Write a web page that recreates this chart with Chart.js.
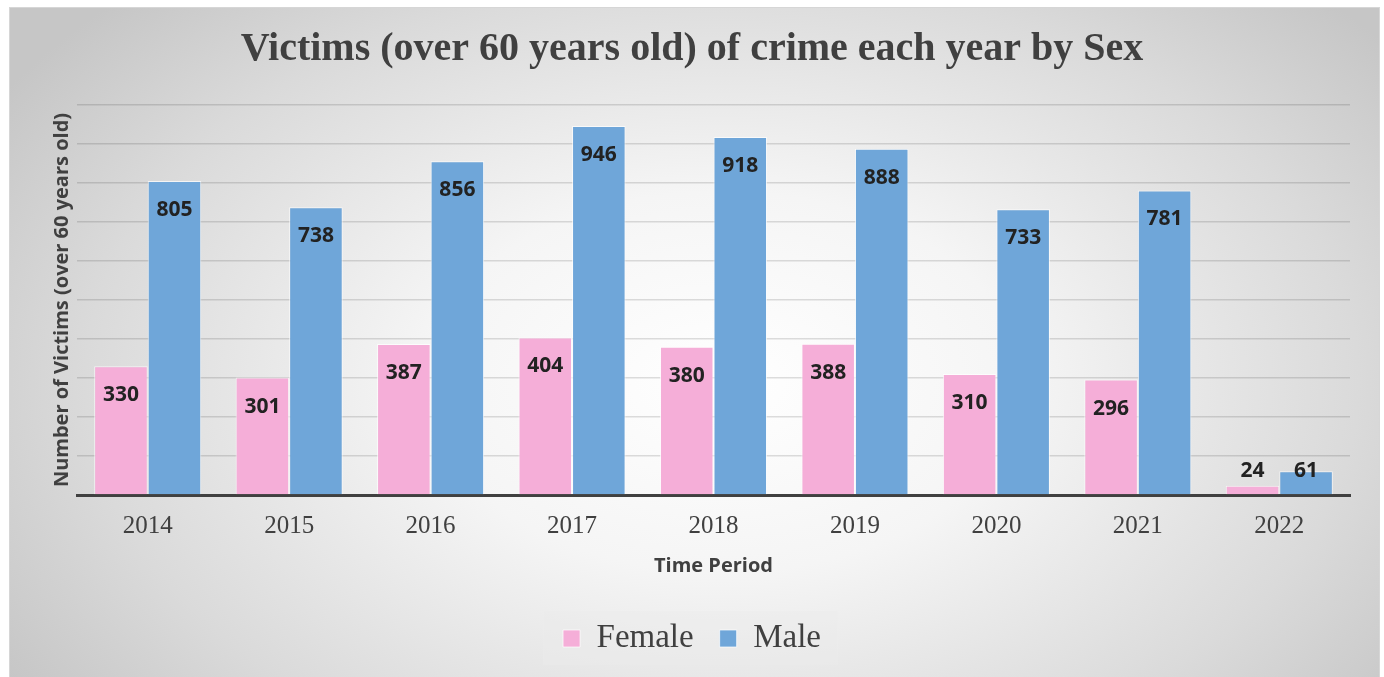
<!DOCTYPE html>
<html>
<head>
<meta charset="utf-8">
<script src="https://cdn.jsdelivr.net/npm/chart.js@4.4.1/dist/chart.umd.min.js"></script>
<style>
  html, body { margin: 0; padding: 0; background: #fff; overflow: hidden; }
  #frame {
    position: absolute; left: 9px; top: 7px; width: 1369px; height: 680px;
    border: 1px solid #d6d6d6;
    background: radial-gradient(ellipse 62% 80% at 52% 55%, #ffffff 0%, #f5f5f5 35%, #dadada 75%, #c6c6c6 100%);
  }
  #wrap { position: absolute; left: 0; top: 0; width: 1384px; height: 677px; }
</style>
</head>
<body>
<div id="frame"></div>
<div id="wrap"><canvas id="myChart" width="1384" height="677"></canvas></div>
<script>
var years = ['2014', '2015', '2016', '2017', '2018', '2019', '2020', '2021', '2022'];
var female = [330, 301, 387, 404, 380, 388, 310, 296, 24];
var male = [805, 738, 856, 946, 918, 888, 733, 781, 61];

// value labels on the bars, like Excel's "inside end"
var barLabels = {
    id: 'barLabels',
    afterDatasetsDraw: function(chart) {
        var ctx = chart.ctx;
        ctx.save();
        ctx.font = 'bold 21px "Open Sans"';
        ctx.fillStyle = '#222222';
        ctx.textAlign = 'center';
        ctx.textBaseline = 'middle';
        chart.data.datasets.forEach(function(ds, i) {
            chart.getDatasetMeta(i).data.forEach(function(bar, j) {
                var y = Math.min(bar.y + 29, bar.base - 23);
                ctx.fillText(ds.data[j], bar.x, y);
            });
        });
        ctx.restore();
    }
};

// light box behind the legend
var legendBox = {
    id: 'legendBox',
    beforeDraw: function(chart) {
        var boxes = chart.legend.legendHitBoxes;
        if (!boxes || !boxes.length) return;
        var l = boxes[0].left, r = boxes[boxes.length - 1].left + boxes[boxes.length - 1].width;
        var t = boxes[0].top, h = boxes[0].height;
        var ctx = chart.ctx;
        ctx.save();
        ctx.fillStyle = 'rgba(235,235,235,0.45)';
        ctx.fillRect(l - 20, t - 11, r - l + 37, h + 21);
        ctx.restore();
    }
};

var ctx = document.getElementById('myChart');
var myChart = new Chart(ctx, {
    type: 'bar',
    data: {
        labels: years,
        datasets: [
            {
                label: 'Female',
                data: female,
                backgroundColor: '#f5aed8',
                borderColor: 'rgba(255,255,255,0.7)',
                borderWidth: 1
            },
            {
                label: 'Male',
                data: male,
                backgroundColor: '#6fa6d9',
                borderColor: 'rgba(255,255,255,0.7)',
                borderWidth: 1
            }
        ]
    },
    options: {
        responsive: false,
        animation: false,
        datasets: {
            bar: { categoryPercentage: 0.757, barPercentage: 1.0 }
        },
        layout: { padding: { left: 34, right: 34, top: 0, bottom: 12 } },
        plugins: {
            title: {
                display: true,
                text: 'Victims (over 60 years old) of crime each year by Sex',
                color: '#404040',
                font: { family: '"Liberation Serif"', size: 40, weight: 'bold' },
                padding: { top: 26, bottom: 31 }
            },
            legend: {
                position: 'bottom',
                labels: {
                    color: '#404040',
                    font: { family: '"Liberation Serif"', size: 33 },
                    boxWidth: 17,
                    boxHeight: 17,
                    padding: 26
                }
            },
            tooltip: { enabled: false }
        },
        scales: {
            x: {
                grid: { display: false, drawTicks: false },
                border: { display: true, color: '#404040', width: 3 },
                ticks: {
                    color: '#404040',
                    padding: 16,
                    font: { family: '"Liberation Serif"', size: 25 }
                },
                title: {
                    display: true,
                    text: 'Time Period',
                    color: '#404040',
                    font: { family: '"Open Sans"', size: 20, weight: 'bold' },
                    padding: { top: 11, bottom: 18 }
                },
                afterFit: function(scale) { scale.height = 101; }
            },
            y: {
                min: 0,
                max: 1000,
                ticks: { display: false, stepSize: 100 },
                grid: { color: 'rgba(0,0,0,0.13)', lineWidth: 1.5, drawTicks: false },
                border: { display: false },
                title: {
                    display: true,
                    text: 'Number of Victims (over 60 years old)',
                    color: '#404040',
                    font: { family: '"Open Sans"', size: 20, weight: 'bold' },
                    padding: { top: 16, bottom: 0 }
                },
                afterFit: function(scale) { scale.width = 43; }
            }
        }
    },
    plugins: [legendBox, barLabels]
});
</script>
</body>
</html>
